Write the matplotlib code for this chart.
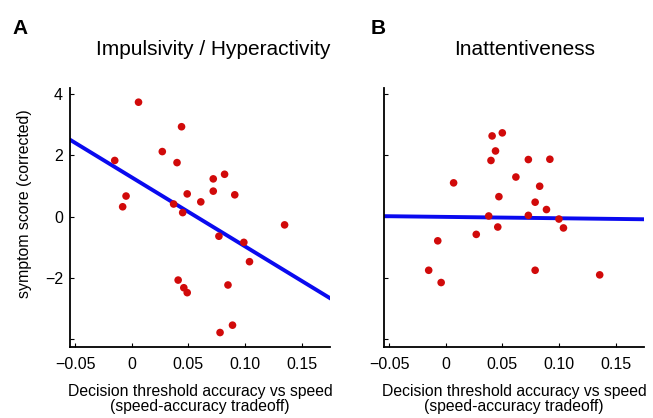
import numpy as np
import matplotlib
matplotlib.use("Agg")
import matplotlib.pyplot as plt

plt.rcParams["font.family"] = ["Liberation Sans", "DejaVu Sans"]

# === Data ===
# Panel A: Impulsivity / Hyperactivity
imp_x = [0.006, 0.044, 0.027, -0.015, 0.040, 0.072, 0.082, 0.072, 0.091, 0.049,
         0.061, -0.005, -0.008, 0.037, 0.045, 0.077, 0.099, 0.104, 0.135, 0.041,
         0.046, 0.049, 0.085, 0.078, 0.089]
imp_y = [3.73, 2.93, 2.12, 1.83, 1.76, 1.23, 1.38, 0.83, 0.71, 0.74,
         0.48, 0.67, 0.32, 0.41, 0.13, -0.64, -0.84, -1.47, -0.27, -2.07,
         -2.32, -2.48, -2.23, -3.78, -3.54]

# Panel B: Inattentiveness
ina_x = [0.050, 0.041, 0.044, 0.040, 0.073, 0.092, 0.062, 0.007, 0.083, 0.047,
         0.079, 0.089, 0.038, 0.073, 0.100, 0.046, 0.104, 0.027, -0.007, -0.015,
         0.079, -0.004, 0.136]
ina_y = [2.73, 2.63, 2.14, 1.83, 1.86, 1.87, 1.29, 1.10, 0.99, 0.65,
         0.47, 0.23, 0.02, 0.04, -0.08, -0.34, -0.37, -0.58, -0.79, -1.75,
         -1.75, -2.15, -1.90]

# regression lines (slope, intercept)
imp_fit = [-22.5, 1.28]
ina_fit = [-0.44, -0.01]

titles = ["Impulsivity / Hyperactivity", "Inattentiveness"]
letters = ["A", "B"]
xticks = [-0.05, 0, 0.05, 0.10, 0.15]
xticklabels = ["\u22120.05", "0", "0.05", "0.10", "0.15"]
yticks = [-4, -2, 0, 2, 4]
yticklabels = ["", "\u22122", "0", "2", "4"]

fig = plt.figure(figsize=(6.53, 4.18), dpi=100)
ax1 = fig.add_axes([0.1072, 0.170, 0.398, 0.620])
ax2 = fig.add_axes([0.588, 0.170, 0.398, 0.620])

panels = [(ax1, imp_x, imp_y, imp_fit), (ax2, ina_x, ina_y, ina_fit)]
xlim = (-0.0545, 0.175)
title_x = [0.55, 0.54]

for i, (ax, xs, ys, fit) in enumerate(panels):
    xx = np.array(xlim)
    ax.plot(xx, fit[0] * xx + fit[1], color="#0a0aef", lw=2.8, zorder=2)
    ax.scatter(xs, ys, s=30, color="#d10a0a", edgecolors="none", zorder=3)

    ax.set_xlim(*xlim)
    ax.set_ylim(-4.25, 4.2)
    ax.spines["top"].set_visible(False)
    ax.spines["right"].set_visible(False)
    ax.spines["left"].set_linewidth(1.3)
    ax.spines["bottom"].set_linewidth(1.3)
    ax.tick_params(direction="in", length=3, width=0.8, labelsize=11.5)
    ax.tick_params(axis="x", pad=7)
    ax.tick_params(axis="y", pad=5)
    ax.set_xticks(xticks)
    ax.set_xticklabels(xticklabels)
    ax.set_yticks(yticks)
    if i == 0:
        ax.set_yticklabels(yticklabels)
        ax.set_ylabel("symptom score (corrected)", fontsize=11.4)
        ax.yaxis.set_label_coords(-0.147, 0.552)
    else:
        ax.set_yticklabels([])
    ax.set_xlabel("Decision threshold accuracy vs speed\n(speed-accuracy tradeoff)",
                  fontsize=11.3, labelpad=9, linespacing=0.95)
    ax.set_title(titles[i], fontsize=15, pad=23.5, x=title_x[i])

fig.text(12 / 653, 1 - 33.5 / 418, letters[0], fontsize=15, fontweight="bold", va="baseline")
fig.text(371 / 653, 1 - 33.5 / 418, letters[1], fontsize=15, fontweight="bold", va="baseline")

fig.savefig("out.png", dpi=100)
